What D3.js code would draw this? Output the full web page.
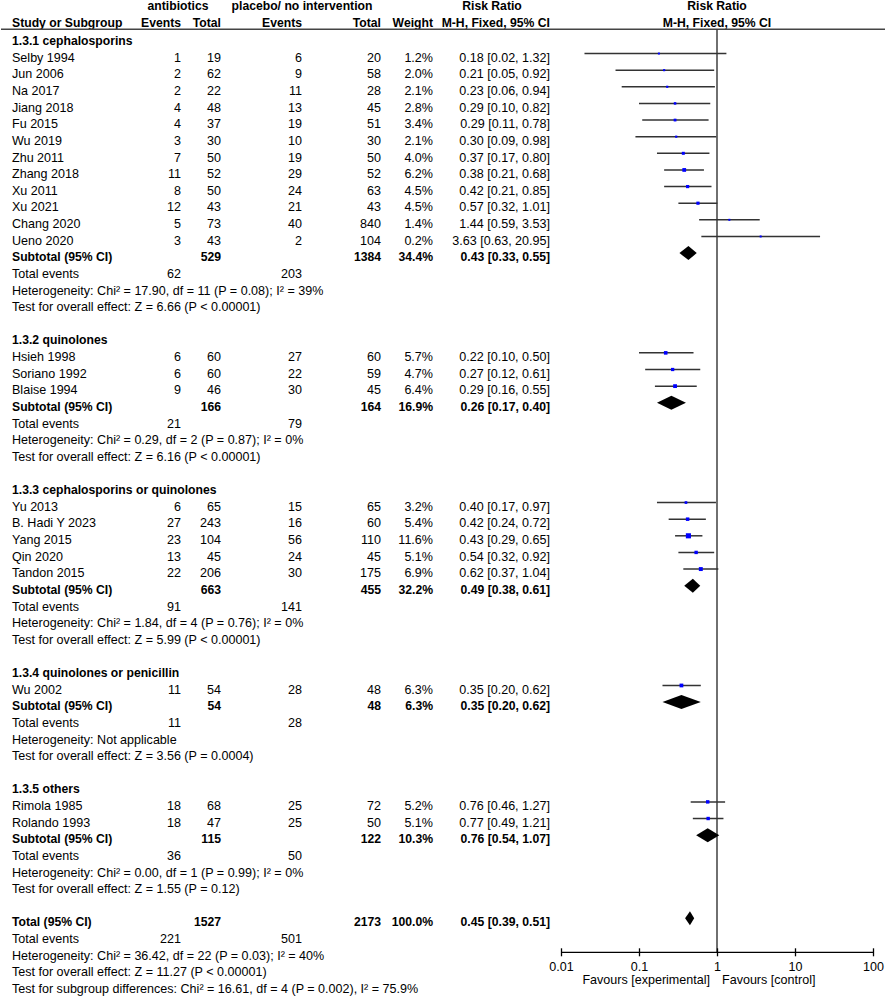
<!DOCTYPE html>
<html>
<head>
<meta charset="utf-8">
<script src="https://cdn.jsdelivr.net/npm/d3@7"></script>
<style>
  html, body { margin: 0; padding: 0; background: #fff; }
  svg { display: block; }
  text { font-family: Arial, "Liberation Sans", sans-serif; fill: #000; }
</style>
</head>
<body>
<svg id="chart" width="886" height="997"></svg>
<script>
// ---------------- DATA ----------------
const groupLabels = ["1.3.1 cephalosporins", "1.3.2 quinolones", "1.3.3 cephalosporins or quinolones", "1.3.4 quinolones or penicillin", "1.3.5 others"];

const studyNames = ["Selby 1994", "Jun 2006", "Na 2017", "Jiang 2018", "Fu 2015", "Wu 2019", "Zhu 2011", "Zhang 2018", "Xu 2011", "Xu 2021", "Chang 2020", "Ueno 2020",
  "Hsieh 1998", "Soriano 1992", "Blaise 1994",
  "Yu 2013", "B. Hadi Y 2023", "Yang 2015", "Qin 2020", "Tandon 2015",
  "Wu 2002",
  "Rimola 1985", "Rolando 1993"];
const studyGroup = [0,0,0,0,0,0,0,0,0,0,0,0, 1,1,1, 2,2,2,2,2, 3, 4,4];
const abxEvents = [1, 2, 2, 4, 4, 3, 7, 11, 8, 12, 5, 3, 6, 6, 9, 6, 27, 23, 13, 22, 11, 18, 18];
const abxTotal  = [19, 62, 22, 48, 37, 30, 50, 52, 50, 43, 73, 43, 60, 60, 46, 65, 243, 104, 45, 206, 54, 68, 47];
const ctlEvents = [6, 9, 11, 13, 19, 10, 19, 29, 24, 21, 40, 2, 27, 22, 30, 15, 16, 56, 24, 30, 28, 25, 25];
const ctlTotal  = [20, 58, 28, 45, 51, 30, 50, 52, 63, 43, 840, 104, 60, 59, 45, 65, 60, 110, 45, 175, 48, 72, 50];
const studyWeight = [1.2, 2.0, 2.1, 2.8, 3.4, 2.1, 4.0, 6.2, 4.5, 4.5, 1.4, 0.2, 5.7, 4.7, 6.4, 3.2, 5.4, 11.6, 5.1, 6.9, 6.3, 5.2, 5.1];
const studyRR   = [0.18, 0.21, 0.23, 0.29, 0.29, 0.30, 0.37, 0.38, 0.42, 0.57, 1.44, 3.63, 0.22, 0.27, 0.29, 0.40, 0.42, 0.43, 0.54, 0.62, 0.35, 0.76, 0.77];
const studyLow  = [0.02, 0.05, 0.06, 0.10, 0.11, 0.09, 0.17, 0.21, 0.21, 0.32, 0.59, 0.63, 0.10, 0.12, 0.16, 0.17, 0.24, 0.29, 0.32, 0.37, 0.20, 0.46, 0.49];
const studyHigh = [1.32, 0.92, 0.94, 0.82, 0.78, 0.98, 0.80, 0.68, 0.85, 1.01, 3.53, 20.95, 0.50, 0.61, 0.55, 0.97, 0.72, 0.65, 0.92, 1.04, 0.62, 1.27, 1.21];

const subAbxTotal  = [529, 166, 663, 54, 115];
const subCtlTotal  = [1384, 164, 455, 48, 122];
const subWeight    = [34.4, 16.9, 32.2, 6.3, 10.3];
const subRR        = [0.43, 0.26, 0.49, 0.35, 0.76];
const subLow       = [0.33, 0.17, 0.38, 0.20, 0.54];
const subHigh      = [0.55, 0.40, 0.61, 0.62, 1.07];
const subAbxEvents = [62, 21, 91, 11, 36];
const subCtlEvents = [203, 79, 141, 28, 50];
const subHetText = [
  "Heterogeneity: Chi\u00B2 = 17.90, df = 11 (P = 0.08); I\u00B2 = 39%",
  "Heterogeneity: Chi\u00B2 = 0.29, df = 2 (P = 0.87); I\u00B2 = 0%",
  "Heterogeneity: Chi\u00B2 = 1.84, df = 4 (P = 0.76); I\u00B2 = 0%",
  "Heterogeneity: Not applicable",
  "Heterogeneity: Chi\u00B2 = 0.00, df = 1 (P = 0.99); I\u00B2 = 0%"];
const subEffectText = [
  "Test for overall effect: Z = 6.66 (P < 0.00001)",
  "Test for overall effect: Z = 6.16 (P < 0.00001)",
  "Test for overall effect: Z = 5.99 (P < 0.00001)",
  "Test for overall effect: Z = 3.56 (P = 0.0004)",
  "Test for overall effect: Z = 1.55 (P = 0.12)"];

const totalAbx = 1527, totalCtl = 2173, totalWeight = 100.0;
const totalRR = 0.45, totalLow = 0.39, totalHigh = 0.51;
const totalAbxEvents = 221, totalCtlEvents = 501;
const totalTexts = [
  "Heterogeneity: Chi\u00B2 = 36.42, df = 22 (P = 0.03); I\u00B2 = 40%",
  "Test for overall effect: Z = 11.27 (P < 0.00001)",
  "Test for subgroup differences: Chi\u00B2 = 16.61, df = 4 (P = 0.002), I\u00B2 = 75.9%"];

const tickValues = [0.01, 0.1, 1, 10, 100];
const tickLabels = ["0.01", "0.1", "1", "10", "100"];
const favourLeft = "Favours [experimental]";
const favourRight = "Favours [control]";

// ---------------- LAYOUT ----------------
const svg = d3.select("#chart");
const FS = 12.55, FSB = 12.2;
const rowY = i => 40.7 + i * 16.63;
const markOff = -3.8;
const col = { name: 12, ae: 181, at: 221, ce: 302, ct: 381, w: 433, ci: 550 };
const x = d3.scaleLog().domain([0.01, 100]).range([561, 873]);
const axisY = 952.3;
const f1 = d3.format(".1f"), f2 = d3.format(".2f");
const ciText = (r, l, h) => `${f2(r)} [${f2(l)}, ${f2(h)}]`;

// build row list
const rows = [];
groupLabels.forEach((g, gi) => {
  rows.push({ type: "group", label: g });
  studyNames.forEach((s, si) => {
    if (studyGroup[si] === gi) rows.push({ type: "study", i: si });
  });
  rows.push({ type: "sub", g: gi });
  rows.push({ type: "events", a: subAbxEvents[gi], c: subCtlEvents[gi] });
  rows.push({ type: "note", text: subHetText[gi] });
  rows.push({ type: "note", text: subEffectText[gi] });
  rows.push({ type: "blank" });
});
rows.push({ type: "total" });
rows.push({ type: "events", a: totalAbxEvents, c: totalCtlEvents });
totalTexts.forEach(t => rows.push({ type: "note", text: t }));

function txt(g, xx, yy, s, anchor, bold) {
  return g.append("text").attr("x", xx).attr("y", yy).attr("dy", "0.35em")
    .attr("text-anchor", anchor || "start")
    .attr("font-size", bold ? FSB : FS)
    .attr("font-weight", bold ? "bold" : "normal")
    .text(s);
}

// ---------------- HEADER ----------------
const hdr = svg.append("g");
txt(hdr, 178, 6, "antibiotics", "middle", true);
txt(hdr, 302, 6, "placebo/ no intervention", "middle", true);
txt(hdr, 492, 6, "Risk Ratio", "middle", true);
txt(hdr, 717, 6, "Risk Ratio", "middle", true);
txt(hdr, col.name, 22.5, "Study or Subgroup", "start", true);
txt(hdr, col.ae, 22.5, "Events", "end", true);
txt(hdr, col.at, 22.5, "Total", "end", true);
txt(hdr, col.ce, 22.5, "Events", "end", true);
txt(hdr, col.ct, 22.5, "Total", "end", true);
txt(hdr, col.w, 22.5, "Weight", "end", true);
txt(hdr, col.ci, 22.5, "M-H, Fixed, 95% CI", "end", true);
txt(hdr, 717, 22.5, "M-H, Fixed, 95% CI", "middle", true);
hdr.append("line").attr("x1", 1).attr("x2", 885).attr("y1", 29.3).attr("y2", 29.3)
  .attr("stroke", "#444").attr("stroke-width", 1.6);

// vertical line of no effect
svg.append("line").attr("x1", x(1)).attr("x2", x(1)).attr("y1", 29.3).attr("y2", axisY)
  .attr("stroke", "#333").attr("stroke-width", 1.4);

// ---------------- ROWS ----------------
const body = svg.append("g");
const plot = svg.append("g");
const diamond = (r, l, h, y) => `M${x(l)},${y}L${x(r)},${y - 7}L${x(h)},${y}L${x(r)},${y + 7}Z`;

rows.forEach((r, idx) => {
  const y = rowY(idx);
  if (r.type === "group") {
    txt(body, col.name, y, r.label, "start", true);
  } else if (r.type === "study") {
    const i = r.i;
    txt(body, col.name, y, studyNames[i]);
    txt(body, col.ae, y, abxEvents[i], "end");
    txt(body, col.at, y, abxTotal[i], "end");
    txt(body, col.ce, y, ctlEvents[i], "end");
    txt(body, col.ct, y, ctlTotal[i], "end");
    txt(body, col.w, y, f1(studyWeight[i]) + "%", "end");
    txt(body, col.ci, y, ciText(studyRR[i], studyLow[i], studyHigh[i]), "end");
    const ym = y + markOff;
    plot.append("line").attr("x1", x(studyLow[i])).attr("x2", x(studyHigh[i]))
      .attr("y1", ym).attr("y2", ym).attr("stroke", "#333").attr("stroke-width", 1.5);
    const s = Math.max(2, 1.5 * Math.sqrt(studyWeight[i]));
    plot.append("rect").attr("x", x(studyRR[i]) - s / 2).attr("y", ym - s / 2)
      .attr("width", s).attr("height", s).attr("fill", "#0000ff");
  } else if (r.type === "sub") {
    const g = r.g;
    txt(body, col.name, y, "Subtotal (95% CI)", "start", true);
    txt(body, col.at, y, subAbxTotal[g], "end", true);
    txt(body, col.ct, y, subCtlTotal[g], "end", true);
    txt(body, col.w, y, f1(subWeight[g]) + "%", "end", true);
    txt(body, col.ci, y, ciText(subRR[g], subLow[g], subHigh[g]), "end", true);
    plot.append("path").attr("d", diamond(subRR[g], subLow[g], subHigh[g], y + markOff)).attr("fill", "#000");
  } else if (r.type === "events") {
    txt(body, col.name, y, "Total events");
    txt(body, col.ae, y, r.a, "end");
    txt(body, col.ce, y, r.c, "end");
  } else if (r.type === "note") {
    txt(body, col.name, y, r.text);
  } else if (r.type === "total") {
    txt(body, col.name, y, "Total (95% CI)", "start", true);
    txt(body, col.at, y, totalAbx, "end", true);
    txt(body, col.ct, y, totalCtl, "end", true);
    txt(body, col.w, y, f1(totalWeight) + "%", "end", true);
    txt(body, col.ci, y, ciText(totalRR, totalLow, totalHigh), "end", true);
    plot.append("path").attr("d", diamond(totalRR, totalLow, totalHigh, y + markOff)).attr("fill", "#000");
  }
});

// ---------------- AXIS ----------------
const axis = d3.axisBottom(x).tickValues(tickValues)
  .tickFormat((d, i) => tickLabels[i]).tickSize(4).tickPadding(6);
const ax = svg.append("g").attr("transform", `translate(0,${axisY})`).call(axis);
ax.select(".domain").attr("stroke", "#000").attr("stroke-width", 1.3).attr("d", `M${x(0.01)},0H${x(100)}`);
ax.selectAll(".tick line").attr("y1", -4).attr("y2", 4).attr("stroke", "#000").attr("stroke-width", 1.3);
ax.selectAll(".tick text").attr("font-size", FS).attr("font-family", "Arial, 'Liberation Sans', sans-serif").attr("fill", "#000");

txt(svg, 710, 980, favourLeft, "end");
txt(svg, 722, 980, favourRight, "start");
</script>
</body>
</html>
